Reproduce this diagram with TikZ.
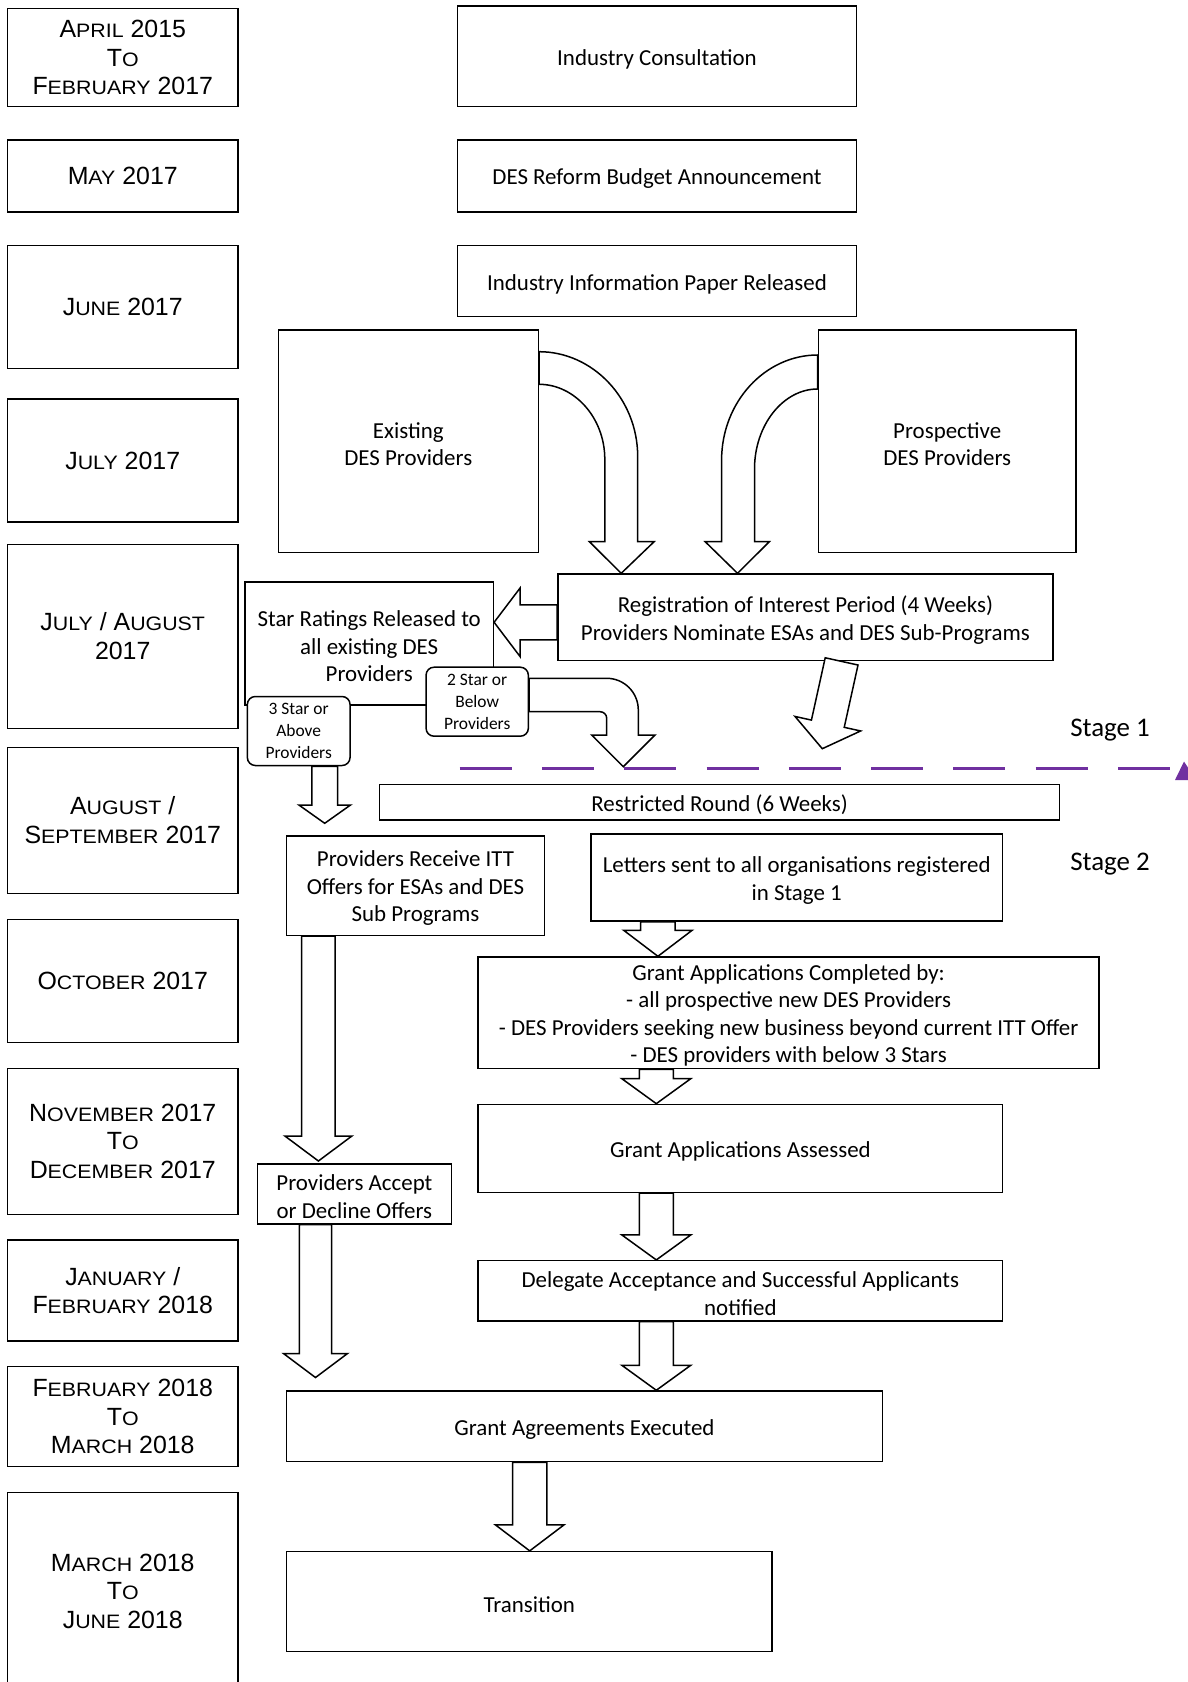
\documentclass[tikz,border=0pt]{standalone}
\usepackage{fontspec}
\usepackage{graphicx}
\setmainfont{Carlito}
\newfontfamily\datefont{Liberation Sans}
\usetikzlibrary{calc}
\definecolor{stagepurple}{HTML}{7030A0}
\newcommand{\bigsc}[2]{#1\scalebox{1.1}[1]{\fontsize{19.5}{28.8}\selectfont #2}}
\newcommand{\blockarrow}[5]{%
  \coordinate (ba-a) at #4; \coordinate (ba-b) at #5;
  \coordinate (ba-h) at ($(ba-b)!#3!(ba-a)$);
  \draw[barrow] ($(ba-a)!#1!90:(ba-b)$) -- ($(ba-h)!#1!90:(ba-b)$) -- ($(ba-h)!#2!90:(ba-b)$) -- (ba-b)
    -- ($(ba-h)!#2!-90:(ba-b)$) -- ($(ba-h)!#1!-90:(ba-b)$) -- ($(ba-a)!#1!-90:(ba-b)$) -- cycle;}
\tikzset{
  box/.style={draw=black, line width=1.5bp, fill=white, inner sep=0pt},
  boxtext/.style={font=\fontsize{23}{27.5}\selectfont, align=center, inner sep=0pt, yshift=-2.7bp},
  tbox/.style={box, label={[boxtext]center:{#1}}},
  datebox/.style={draw=black, line width=1.5bp, inner sep=0pt, align=center,
    minimum width=230.5bp, font=\datefont\fontsize{25}{28.8}\selectfont},
  rbox/.style={box, rounded corners=8bp, align=center, font=\fontsize{17.5}{21.8}\selectfont},
  barrow/.style={draw=black, line width=1.5bp, fill=white, line join=miter},
  stagelbl/.style={font=\fontsize{27}{30}\selectfont, inner sep=0pt},
  stageline/.style={draw=stagepurple, line width=3bp, dash pattern=on 52bp off 30.3bp},
}
\begin{document}
\begin{tikzpicture}[x=1bp, y=-1bp]
\useasboundingbox (0,0) rectangle (1187,1682);

% date column
\node[datebox, minimum height=98.4bp] (d1) at (122.75,57.5) {\bigsc{A}{PRIL} 2015\\\bigsc{T}{O}\\\bigsc{F}{EBRUARY} 2017};
\node[datebox, minimum height=71.7bp] (d2) at (122.75,175.9) {\bigsc{M}{AY} 2017};
\node[datebox, minimum height=122.6bp] (d3) at (122.75,307) {\bigsc{J}{UNE} 2017};
\node[datebox, minimum height=123bp] (d4) at (122.75,460.5) {\bigsc{J}{ULY} 2017};
\node[datebox, minimum height=184bp] (d5) at (122.75,636.3) {\bigsc{J}{ULY} / \bigsc{A}{UGUST}\\2017};
\node[datebox, minimum height=146bp] (d6) at (122.75,820.3) {\bigsc{A}{UGUST} /\\\bigsc{S}{EPTEMBER} 2017};
\node[datebox, minimum height=123.4bp] (d7) at (122.75,981) {\bigsc{O}{CTOBER} 2017};
\node[datebox, minimum height=146bp] (d8) at (122.75,1141.3) {\bigsc{N}{OVEMBER} 2017\\\bigsc{T}{O}\\\bigsc{D}{ECEMBER} 2017};
\node[datebox, minimum height=101bp] (d9) at (122.75,1290.5) {\bigsc{J}{ANUARY} /\\\bigsc{F}{EBRUARY} 2018};
\node[datebox, minimum height=100bp] (d10) at (122.75,1416.7) {\bigsc{F}{EBRUARY} 2018\\\bigsc{T}{O}\\\bigsc{M}{ARCH} 2018};
\node[datebox, minimum height=197.3bp] (d11) at (122.75,1591.3) {\bigsc{M}{ARCH} 2018\\\bigsc{T}{O}\\\bigsc{J}{UNE} 2018};

% process boxes
\node[tbox={Industry Consultation}, minimum width=399.4bp, minimum height=100.7bp] (cons) at (657,56.3) {};
\node[tbox={DES Reform Budget Announcement}, minimum width=399.4bp, minimum height=71.7bp] (budget) at (657,175.9) {};
\node[tbox={Industry Information Paper Released}, minimum width=399.4bp, minimum height=71bp] (paper) at (657,281.2) {};
\node[tbox={Existing\\DES Providers}, minimum width=260bp, minimum height=222.7bp] (exist) at (408.3,441.3) {};
\node[tbox={Prospective\\DES Providers}, minimum width=257.7bp, minimum height=222.7bp] (prosp) at (947.2,441.3) {};
\node[tbox={Registration of Interest Period (4 Weeks)\\Providers Nominate ESAs and DES Sub-Programs}, minimum width=495.2bp, minimum height=86.7bp] (reg) at (805.4,617.3) {};
\node[tbox={Star Ratings Released to\\all existing DES\\Providers}, minimum width=248.3bp, minimum height=123bp] (star) at (369.2,643.5) {};
\node[rbox, minimum width=102.7bp, minimum height=69bp] (three) at (298.7,731) {3 Star or\\Above\\Providers};
\node[rbox, minimum width=102.3bp, minimum height=69bp] (two) at (477.2,701.7) {2 Star or\\Below\\Providers};
\node[tbox={Restricted Round (6 Weeks)}, minimum width=680bp, minimum height=35.7bp] (restr) at (719.6,802.2) {};
\node[tbox={Providers Receive ITT\\Offers for ESAs and DES\\Sub Programs}, minimum width=258.4bp, minimum height=99.5bp] (itt) at (415.5,885.6) {};
\node[tbox={Letters sent to all organisations registered\\in Stage 1}, minimum width=411.8bp, minimum height=87bp] (letters) at (796.7,877.7) {};
\node[tbox={Grant Applications Completed by:\\- all prospective new DES Providers\\- DES Providers seeking new business beyond current ITT Offer\\- DES providers with below 3 Stars}, minimum width=620.8bp, minimum height=111.5bp] (compl) at (788.6,1012.8) {};
\node[tbox={Grant Applications Assessed}, minimum width=524.4bp, minimum height=88bp] (assess) at (740.4,1148.4) {};
\node[tbox={Delegate Acceptance and Successful Applicants\\notified}, minimum width=524.4bp, minimum height=60.3bp] (deleg) at (740.4,1290.8) {};
\node[tbox={Providers Accept\\or Decline Offers}, minimum width=194bp, minimum height=60bp] (accept) at (354.4,1193.9) {};
\node[tbox={Grant Agreements Executed}, minimum width=596.2bp, minimum height=70.6bp] (agree) at (584.4,1426.3) {};
\node[tbox={Transition}, minimum width=485.7bp, minimum height=99.8bp] (trans) at (529.2,1601.5) {};

% stage labels
\node[stagelbl] (s1) at (1110,730) {Stage 1};
\node[stagelbl] (s2) at (1110,864) {Stage 2};

% curved arrows into registration
\draw[barrow] (exist.east |- 0,351.7) .. controls (592.8,351.7) and (637.7,398.7) .. (637.7,456.7)
  -- (637.7,541.7) -- (654.1,541.7) -- (621.2,573.3) -- (589.4,541.7) -- (604.8,541.7) -- (604.8,459.3)
  .. controls (604.8,417.9) and (574.6,384.3) .. (exist.east |- 0,384.3) -- cycle;
\draw[barrow] (prosp.west |- 0,355) .. controls (765.1,355) and (721.6,402) .. (721.6,460)
  -- (721.6,541.7) -- (705.2,541.7) -- (737.5,573.3) -- (769.3,541.7) -- (754.5,541.7) -- (754.5,469)
  .. controls (754.5,424.8) and (783.4,389) .. (prosp.west |- 0,389) -- cycle;

% 2 star curved arrow
\draw[barrow] (two.east |- 0,678.3) -- (606.7,678.3) .. controls (624.2,678.3) and (638.3,692.5) .. (638.3,710)
  -- (638.3,735) -- (655,735) -- (623.3,766.7) -- (591.7,735) -- (606.7,735) -- (606.7,718.3)
  .. controls (606.7,714.6) and (603.7,711.7) .. (600,711.7) -- (two.east |- 0,711.7) -- cycle;

% straight block arrows
\blockarrow{17.5bp}{34.3bp}{26bp}{(reg.west |- 0,622.3)}{(star.east |- 0,622.3)}
\blockarrow{12.8bp}{25.8bp}{18.3bp}{(three.south -| 324.7,0)}{(324.7,823.3)}
\blockarrow{16.8bp}{33.6bp}{25.6bp}{(reg.south -| 841.6,0)}{(822.3,748.7)}
\blockarrow{16.7bp}{33.5bp}{25bp}{(itt.south -| 318.4,0)}{(318.4,1161)}
\blockarrow{16.2bp}{32bp}{24bp}{(accept.south -| 315.5,0)}{(315.5,1377.5)}
\blockarrow{17.2bp}{34.2bp}{26bp}{(letters.south -| 657.9,0)}{(compl.north -| 657.9,0)}
\blockarrow{17bp}{34.5bp}{25bp}{(compl.south -| 656.3,0)}{(assess.north -| 656.3,0)}
\blockarrow{17bp}{34.5bp}{25bp}{(assess.south -| 656.3,0)}{(deleg.north -| 656.3,0)}
\blockarrow{17bp}{34.5bp}{25bp}{(deleg.south -| 656.3,0)}{(agree.north -| 656.3,0)}
\blockarrow{17.2bp}{34.3bp}{26bp}{(agree.south -| 529.7,0)}{(trans.north -| 529.7,0)}

% stage divider
\coordinate (sl-a) at (459.6,768.3);
\coordinate (sl-b) at (1172,768.3);
\draw[stageline] (sl-a) -- (sl-b);
\fill[stagepurple] (1175,780) -- (1184,761.5) -- (1196,780) -- cycle;
\end{tikzpicture}
\end{document}
